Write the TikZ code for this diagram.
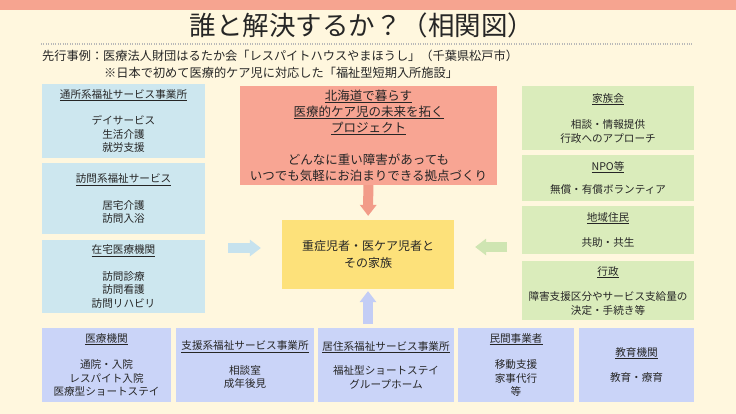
\documentclass[tikz,border=0pt]{standalone}
\usepackage{fontspec}
\setmainfont{Noto Sans CJK JP}
\usetikzlibrary{arrows.meta}
\definecolor{bgcream}{HTML}{FFF7DE}
\definecolor{topbar}{HTML}{F6A490}
\definecolor{projred}{HTML}{F8A593}
\definecolor{projarr}{HTML}{F29C89}
\definecolor{lblue}{HTML}{CDE7EF}
\definecolor{lbluearr}{HTML}{C6E2EE}
\definecolor{fyellow}{HTML}{FDE17A}
\definecolor{rgreen}{HTML}{DAECBB}
\definecolor{rgreenarr}{HTML}{CFE5B2}
\definecolor{bblue}{HTML}{CAD4F8}
\definecolor{bbluearr}{HTML}{C3CDF5}
\definecolor{txt}{HTML}{262626}

\begin{document}
\begin{tikzpicture}[x=1pt,y=-1pt,
    box/.style={inner sep=0pt, align=center, text=txt, font=\fontsize{10.6}{13.5}\selectfont},
    lbox/.style={box, fill=lblue, minimum width=163pt},
    rbox/.style={box, fill=rgreen, minimum width=172pt},
    bbox/.style={box, fill=bblue, minimum height=74pt},
    blockarr/.style={line width=10pt, -{Triangle[length=11pt, width=17pt, line width=0pt]}}]
      \useasboundingbox (0,0) rectangle (736,414);
      \fill[bgcream] (0,0) rectangle (736,414);
      \fill[topbar] (0,0) rectangle (736,10);
      \node[text=txt, font=\fontsize{26.5}{30}\selectfont] (title) at (362,25) {誰と解決するか？（相関図）};
      \draw[gray!55, line width=1.1pt, dash pattern=on 1pt off 1.4pt] (41,44) -- (692,44);
      \node[anchor=west, inner sep=0pt, text=txt, font=\fontsize{12.2}{14}\selectfont] (case) at (42,56) {先行事例：医療法人財団はるたか会「レスパイトハウスやまほうし」（千葉県松戸市）};
      \node[anchor=west, inner sep=0pt, text=txt, font=\fontsize{12.2}{14}\selectfont] (note) at (104,73) {※日本で初めて医療的ケア児に対応した「福祉型短期入所施設」};
      \node[lbox, minimum height=74pt] (tsusho) at (123.5,121) {\underline{通所系福祉サービス事業所}\\[13pt]デイサービス\\生活介護\\就労支援};
      \node[lbox, minimum height=71pt] (homon) at (123.5,198.5) {\underline{訪問系福祉サービス}\\[13pt]居宅介護\\訪問入浴};
      \node[lbox, minimum height=73pt] (zaitaku) at (123.5,276.5) {\underline{在宅医療機関}\\[13pt]訪問診療\\訪問看護\\訪問リハビリ};
      \node[box, fill=projred, minimum width=257pt, minimum height=99pt, font=\fontsize{12.5}{16}\selectfont] (proj) at (368.5,135.5) {\underline{北海道で暮らす}\\\underline{医療的ケア児の未来を拓く}\\\underline{プロジェクト}\\[16pt]どんなに重い障害があっても\\いつでも気軽にお泊まりできる拠点づくり};
      \node[box, fill=fyellow, minimum width=172pt, minimum height=69pt, font=\fontsize{12}{17}\selectfont] (fam) at (368,254.5) {重症児者・医ケア児者と\\その家族};
      \node[rbox, minimum height=64pt] (kazoku) at (608,118) {\underline{家族会}\\[13pt]相談・情報提供\\行政へのアプローチ};
      \node[rbox, minimum height=46pt] (npo) at (608,178) {\underline{NPO等}\\[10pt]無償・有償ボランティア};
      \node[rbox, minimum height=48pt] (chiiki) at (608,230) {\underline{地域住民}\\[12pt]共助・共生};
      \node[rbox, minimum height=59pt] (gyosei) at (608,290.5) {\underline{行政}\\[12pt]障害支援区分やサービス支給量の\\決定・手続き等};
      \node[bbox, minimum width=129pt] (iryo) at (106.5,365) {\underline{医療機関}\\[13pt]通院・入院\\レスパイト入院\\医療型ショートステイ};
      \node[bbox, minimum width=138pt] (shien) at (245,365) {\underline{支援系福祉サービス事業所}\\[11pt]相談室\\成年後見};
      \node[bbox, minimum width=136pt] (kyoju) at (386,365) {\underline{居住系福祉サービス事業所}\\[11pt]福祉型ショートステイ\\グループホーム};
      \node[bbox, minimum width=116pt] (minkan) at (516,365) {\underline{民間事業者}\\[13pt]移動支援\\家事代行\\等};
      \node[bbox, minimum width=115pt] (kyoiku) at (636.5,365) {\underline{教育機関}\\[12pt]教育・療育};
      \coordinate (lin) at (205,248);
      \coordinate (rin) at (522,247);
      \draw[blockarr, projarr, shorten >=4pt] (proj) -- (fam);
      \draw[blockarr, lbluearr, shorten <=23pt, shorten >=21pt] (lin) -- (lin -| fam.west);
      \draw[blockarr, rgreenarr, shorten <=15pt, shorten >=21pt] (rin) -- (rin -| fam.east);
      \draw[blockarr, bbluearr, shorten <=4pt, shorten >=2pt] (fam.south |- kyoju.north) -- (fam.south);
    \end{tikzpicture}
\end{document}
